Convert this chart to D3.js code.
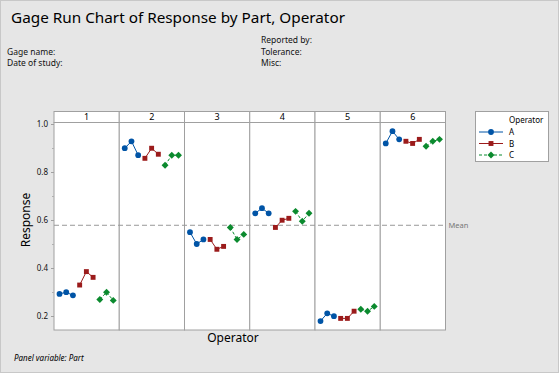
<!DOCTYPE html>
<html>
<head>
<meta charset="utf-8">
<script src="https://cdn.jsdelivr.net/npm/d3@7"></script>
<style>
  body { margin: 0; background: #e6e6e6; }
  svg { display: block; font-family: "Noto Sans", "Open Sans", sans-serif; }
</style>
</head>
<body>
<script>
// parts (panels) and operators
let parts = ['1', '2', '3', '4', '5', '6'];
let operators = ['A', 'B', 'C'];
let opColors = ['#0054a6', '#9b1b1b', '#0b8a2e'];
let yTicks = [0.2, 0.4, 0.6, 0.8, 1.0];
let meanValue = 0.578;

// three trials per operator, per part
let responseA = [
  [0.292, 0.299, 0.286],
  [0.899, 0.928, 0.870],
  [0.549, 0.500, 0.519],
  [0.628, 0.649, 0.628],
  [0.179, 0.211, 0.199],
  [0.919, 0.970, 0.936]
];
let responseB = [
  [0.329, 0.385, 0.361],
  [0.857, 0.899, 0.874],
  [0.519, 0.478, 0.490],
  [0.569, 0.599, 0.607],
  [0.190, 0.190, 0.220],
  [0.928, 0.919, 0.936]
];
let responseC = [
  [0.269, 0.299, 0.265],
  [0.828, 0.870, 0.870],
  [0.569, 0.519, 0.540],
  [0.636, 0.595, 0.628],
  [0.228, 0.220, 0.240],
  [0.907, 0.928, 0.936]
];
let responses = [responseA, responseB, responseC];

let W = 559, H = 373;
let svg = d3.select('body').append('svg').attr('width', W).attr('height', H);

svg.append('rect').attr('x', 0.5).attr('y', 0.5).attr('width', W - 1).attr('height', H - 1)
  .attr('fill', '#e6e6e6').attr('stroke', '#c8c8c8');

// header texts
svg.append('text').attr('x', 11).attr('y', 23).attr('font-size', '15.3px').attr('fill', '#000')
  .text('Gage Run Chart of Response by Part, Operator');
let hdr = [
  {x: 7, y: 55, t: 'Gage name:'},
  {x: 7, y: 66, t: 'Date of study:'},
  {x: 261, y: 43, t: 'Reported by:'},
  {x: 261, y: 55, t: 'Tolerance:'},
  {x: 261, y: 66, t: 'Misc:'}
];
svg.selectAll('text.hdr').data(hdr).enter().append('text').attr('class', 'hdr')
  .attr('x', d => d.x).attr('y', d => d.y).attr('font-size', '8.5px').attr('fill', '#111')
  .text(d => d.t);

let plotL = 54, plotR = 445.5, stripT = 111.5, stripB = 122.5, plotB = 330;

let x = d3.scaleBand().domain(parts).range([plotL, plotR]).padding(0);
let xi = d3.scalePoint().domain(d3.range(9)).range([5.5, x.bandwidth() - 6]);
let y = d3.scaleLinear().domain([0.2, 1.0]).range([316, 124]);

// panels
let panel = svg.selectAll('g.panel').data(parts).enter().append('g').attr('class', 'panel');
panel.append('rect').attr('x', d => x(d)).attr('y', stripT).attr('width', x.bandwidth())
  .attr('height', stripB - stripT).attr('fill', '#fff').attr('stroke', '#a0a0a0');
panel.append('rect').attr('x', d => x(d)).attr('y', stripB).attr('width', x.bandwidth())
  .attr('height', plotB - stripB).attr('fill', '#fff').attr('stroke', '#a0a0a0');
panel.append('text').attr('x', d => x(d) + x.bandwidth() / 2).attr('y', stripB - 2.5)
  .attr('text-anchor', 'middle').attr('font-size', '9px').text(d => d);

// y axis
let yAxis = d3.axisLeft(y).tickValues(yTicks).tickFormat(d3.format('.1f')).tickSize(3).tickPadding(3);
let gy = svg.append('g').attr('transform', `translate(${plotL},0)`).call(yAxis);
gy.select('.domain').remove();
gy.selectAll('line').attr('stroke', '#a0a0a0');
gy.selectAll('text').attr('font-size', '8px').attr('fill', '#111').attr('font-family', '"Noto Sans", sans-serif');
let minor = d3.axisLeft(y).tickValues([0.3, 0.5, 0.7, 0.9]).tickSize(2).tickFormat('');
let gm = svg.append('g').attr('transform', `translate(${plotL},0)`).call(minor);
gm.select('.domain').remove();
gm.selectAll('line').attr('stroke', '#b0b0b0');

// axis titles
svg.append('text').attr('transform', 'translate(30,220) rotate(-90)').attr('text-anchor', 'middle')
  .attr('font-size', '12px').text('Response');
svg.append('text').attr('x', 233).attr('y', 342).attr('text-anchor', 'middle')
  .attr('font-size', '12px').text('Operator');
svg.append('text').attr('x', 14).attr('y', 361).attr('font-size', '8px').attr('font-style', 'italic')
  .text('Panel variable: Part');

// mean line
svg.append('line').attr('x1', plotL).attr('x2', plotR).attr('y1', y(meanValue)).attr('y2', y(meanValue))
  .attr('stroke', '#999').attr('stroke-dasharray', '5,3');
svg.append('text').attr('x', plotR + 3).attr('y', y(meanValue) + 3).attr('font-size', '7.5px')
  .attr('fill', '#777').text('Mean');

let symbols = [d3.symbolCircle, d3.symbolSquare, d3.symbolSquare];
let symSize = [26, 24, 24];
let symRot = [0, 0, 45];
let dashes = [null, null, '3,2'];

// data lines and markers
parts.forEach(function(p, pi) {
  operators.forEach(function(op, oi) {
    let pts = responses[oi][pi].map((v, k) => ({px: x(p) + xi(oi * 3 + k), py: y(v)}));
    svg.append('path').datum(pts)
      .attr('d', d3.line().x(d => d.px).y(d => d.py))
      .attr('fill', 'none').attr('stroke', opColors[oi]).attr('stroke-width', 1)
      .attr('stroke-dasharray', dashes[oi]);
    svg.selectAll(null).data(pts).enter().append('path')
      .attr('transform', d => `translate(${d.px},${d.py}) rotate(${symRot[oi]})`)
      .attr('d', d3.symbol().type(symbols[oi]).size(symSize[oi]))
      .attr('fill', opColors[oi]);
  });
});

// legend
let lg = svg.append('g');
lg.append('rect').attr('x', 475.5).attr('y', 111.5).attr('width', 73).attr('height', 50)
  .attr('fill', '#fff').attr('stroke', '#a0a0a0');
lg.append('text').attr('x', 509).attr('y', 123).attr('font-size', '8px').text('Operator');
operators.forEach(function(op, oi) {
  let ly = 132 + oi * 11.5;
  lg.append('line').attr('x1', 479).attr('x2', 503).attr('y1', ly).attr('y2', ly)
    .attr('stroke', opColors[oi]).attr('stroke-dasharray', dashes[oi]);
  lg.append('path').attr('transform', `translate(491,${ly}) rotate(${symRot[oi]})`)
    .attr('d', d3.symbol().type(symbols[oi]).size(symSize[oi])).attr('fill', opColors[oi]);
  lg.append('text').attr('x', 509).attr('y', ly + 3).attr('font-size', '8px').text(op);
});
</script>
</body>
</html>
